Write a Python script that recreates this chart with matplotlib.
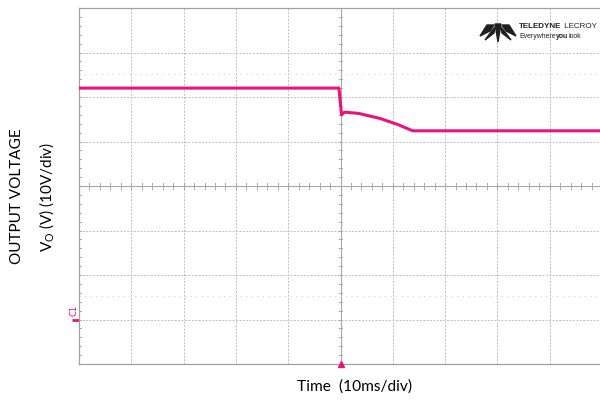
import matplotlib.pyplot as plt
import numpy as np
from matplotlib.patches import Polygon
from matplotlib import font_manager

# trace (time in ms, output voltage in V)
time_ms = [-50, -0.3, 0.2, 0.8, 3.5, 7.5, 11.0, 13.8, 50]
vout = [52.0, 52.0, 46.0, 46.6, 46.3, 45.2, 43.8, 42.4, 42.4]
cursor_levels = [55.2, 5.3]   # faint dotted cursor rows
x_div = 10   # ms/div
y_div = 10   # V/div
trace_color = '#e8137e'

plt.rcParams['font.family'] = ['Lato', 'DejaVu Sans']

try:
    font_manager.findfont('Liberation Sans Narrow', fallback_to_default=False)
    logo_font, logo_size = 'Liberation Sans Narrow', 7.2
except Exception:
    logo_font, logo_size = 'Liberation Sans', 5.8

fig = plt.figure(figsize=(6, 4), dpi=100)
ax = fig.add_axes([79/600, 36/400, 523/600, 356/400])
ax.set_xlim(-50, 50)
ax.set_ylim(-10, 70)

# graticule
for t in np.arange(-50, 51, x_div):
    if t != 0:
        ax.axvline(t, color='#bdbdbd', lw=0.7, ls=(0, (2, 1.5)), zorder=1)
for v in np.arange(-10, 71, y_div):
    if v != 30:
        ax.axhline(v, color='#bdbdbd', lw=0.7, ls=(0, (2, 1.5)), zorder=1)
ax.axvline(0, color='#a8a8a8', lw=0.8, zorder=1)
ax.axhline(30, color='#a8a8a8', lw=0.8, zorder=1)
# minor ticks on the centre lines and left edge
for t in np.arange(-50, 50.1, 2):
    ax.plot([t, t], [29.3, 30.7], color='#a8a8a8', lw=0.7, zorder=1)
for v in np.arange(-10, 70.1, 2):
    ax.plot([-0.35, 0.35], [v, v], color='#a8a8a8', lw=0.7, zorder=1)
    ax.plot([-50, -49.6], [v, v], color='#a8a8a8', lw=0.7, zorder=1)
for v in cursor_levels:
    ax.axhline(v, color='#d4d4d4', lw=0.8, ls=(0, (1, 4)), zorder=1)

ax.plot(time_ms, vout, color=trace_color, lw=2.2, zorder=3)

for s in ax.spines.values():
    s.set_color('#a0a0a0')
    s.set_linewidth(0.9)
ax.set_xticks([])
ax.set_yticks([])

# trigger and ground markers
ax.plot([0], [-10], marker='^', ms=4, color=trace_color, clip_on=False, zorder=4)
ax.plot([-51.4, -50], [0, 0], color=trace_color, lw=2, clip_on=False,
        solid_capstyle='butt')
ax.text(-51.0, 0.8, 'C1', rotation=90, color=trace_color, fontsize=6,
        ha='center', va='bottom', family='DejaVu Sans')

fig.text(355/600, 1 - 387/400, 'Time  (10ms/div)', ha='center', va='center', fontsize=11.2)
fig.text(17/600, 1 - 196/400, 'OUTPUT VOLTAGE', rotation=90, ha='center', va='center', fontsize=11)
fig.text(47/600, 1 - 197/400, r'V$_\mathregular{O}$ (V) (10V/div)', rotation=90,
         ha='center', va='center', fontsize=11)

# Teledyne LeCroy logo
logo = [
    [(480, 36), (487, 25), (494, 25), (490, 31)],
    [(485, 40), (491, 32), (495, 27), (494, 33)],
    [(516, 36), (509, 25), (502, 25), (506, 31)],
    [(511, 40), (505, 32), (501, 27), (502, 33)],
    [(495, 24), (501, 24), (498, 42)],
]
for pts in logo:
    fig.patches.append(Polygon([(x/600, 1 - y/400) for x, y in pts], closed=True,
                               transform=fig.transFigure, color='#231f20'))


def chain(parts, x0, y0, size):
    renderer = fig.canvas.get_renderer()
    x = x0
    for txt, weight in parts:
        t = fig.text(x/600, 1 - y0/400, txt, fontsize=size, fontweight=weight,
                     family=logo_font, va='center', color='#231f20')
        bb = t.get_window_extent(renderer)
        x += bb.width + 0.5


chain([('TELEDYNE', 'bold'), (' LECROY', 'normal')], 519, 26, logo_size)
chain([('Everywhere', 'normal'), ('you', 'bold'), ('look', 'normal')], 519, 37, logo_size * 0.85)

fig.savefig('out.png', dpi=100)
